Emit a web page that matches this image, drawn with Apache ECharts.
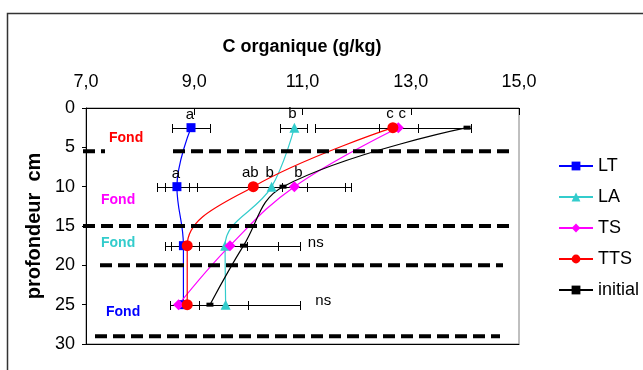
<!DOCTYPE html>
<html><head><meta charset="utf-8">
<script src="https://cdn.jsdelivr.net/npm/echarts@6/dist/echarts.min.js"></script>
<style>html,body{margin:0;padding:0;background:#fff}#c{width:643px;height:370px}</style>
</head><body><div id="c"></div>
<script>
// ---- data ----
const depths = [2.5, 10, 17.5, 25];
const xTicks = [7, 9, 11, 13, 15];
const yTicks = [0, 5, 10, 15, 20, 25, 30];
const seriesNames = ['LT', 'LA', 'TS', 'TTS', 'initial'];
const LT = [8.94, 8.68, 8.80, 8.80];
const LA = [10.85, 10.43, 9.57, 9.58];
const TS = [12.77, 10.85, 9.66, 8.71];
const TTS = [12.67, 10.09, 8.87, 8.87];
const initial = [14.04, 10.64, 9.91, 9.29];
const LT_lo = [8.58, 8.46, 8.57, 8.55], LT_hi = [9.30, 8.91, 9.08, 9.08];
const LA_lo = [10.59, 9.06, 8.57, 9.08], LA_hi = [11.08, 11.79, 10.55, 9.99];
const TS_lo = [12.41, 10.62, 8.46, 8.55], TS_hi = [13.13, 11.08, 10.95, 10.96];
const TTS_lo = [11.23, 8.31, 8.46, 8.55], TTS_hi = [14.11, 11.89, 9.97, 9.08];
const LT_sig = ['a', 'a', '', ''];
const LA_sig = ['b', 'b', '', ''];
const TS_sig = ['c', 'b', '', ''];
const TTS_sig = ['c', 'ab', '', ''];
const nsDepths = [17.5, 25];
const nsText = ['ns', 'ns'];
const boundaryDepths = [5.5, 15, 20, 29];
const fondText = ['Fond', 'Fond', 'Fond', 'Fond'];
const xTitle = 'C organique (g/kg)';
const yTitle = 'profondeur  cm';

const FONT = '"Liberation Sans", Arial, sans-serif';
const chart = echarts.init(document.getElementById('c'), null, {renderer: 'canvas'});

function lineSeries(name, vals, sig, color, symbol, size, offset) {
  return {
    name, type: 'line', xAxisIndex: 0, yAxisIndex: 0,
    data: depths.map((d, i) => [vals[i], d]),
    smooth: 0.4, symbol, symbolSize: size, z: 3,
    lineStyle: {color, width: 1.2},
    itemStyle: {color},
    label: sig ? {show: true, position: 'top', distance: 1, offset,
      formatter: p => sig[p.dataIndex], color: '#000', fontSize: 15, fontFamily: FONT} : {show: false},
    emphasis: {disabled: true}, animation: false
  };
}
const errRows = [];
[[LT_lo, LT_hi], [LA_lo, LA_hi], [TS_lo, TS_hi], [TTS_lo, TTS_hi]].forEach(([lo, hi]) => {
  depths.forEach((d, i) => errRows.push([lo[i], hi[i], d]));
});
function renderErr(params, api) {
  const a = api.coord([api.value(0), api.value(2)]);
  const b = api.coord([api.value(1), api.value(2)]);
  const y = Math.round(a[1]) + 0.5, x1 = Math.round(a[0]) + 0.5, x2 = Math.round(b[0]) + 0.5;
  const h = 4.5, st = {stroke: '#000', lineWidth: 1};
  return {type: 'group', children: [
    {type: 'line', shape: {x1, y1: y, x2, y2: y}, style: st},
    {type: 'line', shape: {x1, y1: y - h, x2: x1, y2: y + h}, style: st},
    {type: 'line', shape: {x1: x2, y1: y - h, x2, y2: y + h}, style: st}
  ]};
}

const option = {
  backgroundColor: '#fff',
  animation: false,
  textStyle: {fontFamily: FONT},
  grid: {left: 86, right: 124, top: 108, bottom: 26, show: true, borderColor: '#808080', borderWidth: 1},
  xAxis: [{
    type: 'value', position: 'top', min: xTicks[0], max: xTicks[xTicks.length - 1], interval: xTicks[1] - xTicks[0],
    axisLine: {show: true, lineStyle: {color: '#000', width: 1}},
    axisTick: {show: true, inside: true, length: 7, lineStyle: {color: '#000'}},
    axisLabel: {fontSize: 18, color: '#000', margin: 17, fontFamily: FONT,
      formatter: v => v.toFixed(1).replace('.', ',')},
    splitLine: {show: false}
  }, {
    type: 'value', position: 'bottom', min: xTicks[0], max: xTicks[xTicks.length - 1],
    axisLine: {show: true, lineStyle: {color: '#000', width: 1}},
    axisTick: {show: false}, axisLabel: {show: false}, splitLine: {show: false}
  }],
  yAxis: [{
    type: 'value', inverse: true, min: yTicks[0], max: yTicks[yTicks.length - 1], interval: yTicks[1] - yTicks[0],
    axisLine: {show: true, lineStyle: {color: '#000', width: 1}},
    axisTick: {show: true, length: 4, lineStyle: {color: '#000'}},
    axisLabel: {fontSize: 18, color: '#000', margin: 11, fontFamily: FONT},
    splitLine: {show: false},
    name: yTitle, nameLocation: 'middle', nameGap: 36, nameRotate: 90,
    nameTextStyle: {fontSize: 20, fontWeight: 'bold', color: '#000', fontFamily: FONT}
  }],
  legend: {
    data: seriesNames, orient: 'vertical', left: 553, top: 152, itemWidth: 34, itemHeight: 11, itemGap: 13,
    textStyle: {fontSize: 18, color: '#000', fontFamily: FONT}, selectedMode: false
  },
  series: [
    {type: 'custom', xAxisIndex: 0, yAxisIndex: 0, data: errRows, renderItem: renderErr,
      encode: {x: [0, 1], y: 2}, z: 2, silent: true},
    lineSeries('LT', LT, LT_sig, '#0000FF', 'rect', 9, [-1, 0]),
    lineSeries('LA', LA, LA_sig, '#33CCCC', 'triangle', 10, [-2, 0]),
    lineSeries('TS', TS, TS_sig, '#FF00FF', 'diamond', 11, [4, 0]),
    lineSeries('TTS', TTS, TTS_sig, '#FF0000', 'circle', 11, [-3, 0]),
    lineSeries('initial', initial, null, '#000000', 'rect', [7, 4], [0, 0])
  ]
};
chart.setOption(option);

// annotations: boundaries, Fond labels, ns, titles
const segs = [[[83, 105], [173, 514]], [[83, 514]], [[100, 503]], [[95, 500]]];
const graphics = [];
graphics.push({type: 'rect', shape: {x: 7.5, y: 13.5, width: 700, height: 400},
  style: {fill: 'none', stroke: '#333', lineWidth: 1.5}, z: 0, silent: true});
boundaryDepths.forEach((d, k) => {
  const y = chart.convertToPixel({yAxisIndex: 0}, d);
  segs[k].forEach(s => graphics.push({type: 'line', shape: {x1: s[0], y1: y, x2: s[1], y2: y},
    style: {stroke: '#000', lineWidth: 4, lineDash: [12, 6]}, z: 10, silent: true}));
});
const fondPos = [[109, 138, '#FF0000'], [101, 200, '#FF00FF'], [101, 243, '#33CCCC'], [106, 312, '#0000FF']];
fondText.forEach((t, k) => graphics.push({type: 'text', x: fondPos[k][0], y: fondPos[k][1],
  style: {text: t, fill: fondPos[k][2], font: 'bold 14px ' + FONT, textVerticalAlign: 'middle'}, z: 10}));
const nsGap = [8, 15], nsDy = [-3, -4];
nsDepths.forEach((d, k) => {
  const i = depths.indexOf(d);
  const maxHi = Math.max(LT_hi[i], LA_hi[i], TS_hi[i], TTS_hi[i]);
  const p = chart.convertToPixel({xAxisIndex: 0, yAxisIndex: 0}, [maxHi, d]);
  graphics.push({type: 'text', x: p[0] + nsGap[k], y: p[1] + nsDy[k],
    style: {text: nsText[k], fill: '#000', font: '15px ' + FONT, textVerticalAlign: 'middle'}, z: 10});
});
graphics.push({type: 'text', x: 302, y: 47, style: {text: xTitle, fill: '#000', font: 'bold 18px ' + FONT,
  textAlign: 'center', textVerticalAlign: 'middle'}, z: 10});
chart.setOption({graphic: graphics});
</script></body></html>
